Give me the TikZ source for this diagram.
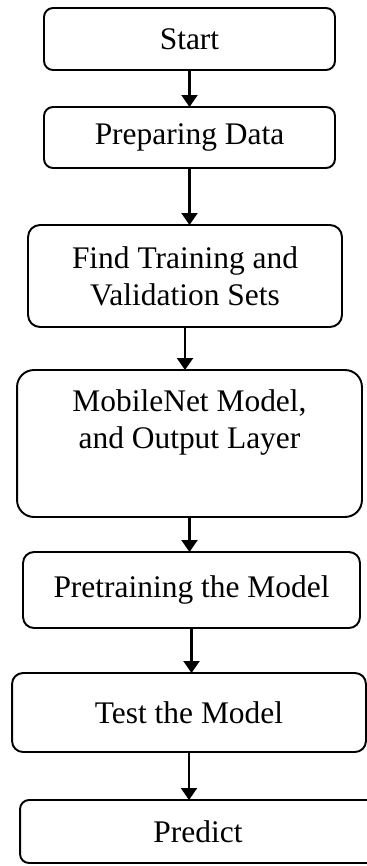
\documentclass[tikz,border=0pt]{standalone}
\usepackage{fontspec}
\setmainfont{Liberation Serif}
\usetikzlibrary{arrows.meta}
\begin{document}
\begin{tikzpicture}[x=0.02cm,y=0.02cm,
  box/.style={draw,line width=1.1pt,rounded corners=0.18cm,align=center,
    inner sep=0pt,outer sep=0pt,font=\fontsize{17.9}{21}\selectfont},
  arr/.style={-{Triangle[width=0.32cm,length=0.24cm]},line width=1.2pt}]
\useasboundingbox (0,0) rectangle (367,-866);
\node[box,minimum width=5.82cm,minimum height=1.24cm] (start) at (189.5,-39) {Start};
\node[box,minimum width=5.82cm,minimum height=1.22cm] (prep) at (189.5,-137.5) {Preparing Data};
\node[box,minimum width=6.28cm,minimum height=2.04cm,rounded corners=0.24cm] (find) at (185,-276) {Find Training and\\ Validation Sets};
\node[box,minimum width=6.9cm,minimum height=2.94cm,rounded corners=0.34cm] (mobile) at (189.5,-443.5) {MobileNet Model,\\ and Output Layer\\ \strut};
\node[box,minimum width=6.74cm,minimum height=1.52cm,rounded corners=0.22cm] (pretrain) at (191.5,-590) {Pretraining the Model};
\node[box,minimum width=7.08cm,minimum height=1.58cm,rounded corners=0.22cm] (test) at (189,-712.5) {Test the Model};
\node[box,minimum width=7.12cm,minimum height=1.26cm] (predict) at (198,-831.5) {Predict};

\draw[arr] (start.south) -- (start.south |- prep.north);
\draw[arr] (prep.south) -- (prep.south |- find.north);
\draw[arr] (find.south) -- (find.south |- mobile.north);
\draw[arr] (mobile.south) -- (mobile.south |- pretrain.north);
\draw[arr] (pretrain.south) -- (pretrain.south |- test.north);
\draw[arr] (test.south) -- (test.south |- predict.north);
\end{tikzpicture}
\end{document}
